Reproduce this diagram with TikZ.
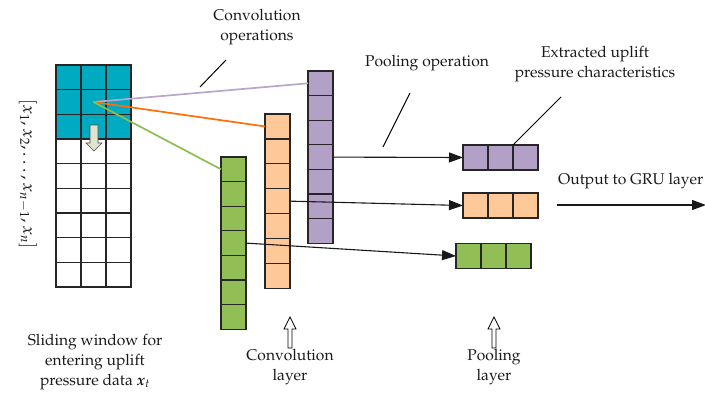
\documentclass[tikz,border=0pt]{standalone}
\usepackage[T1]{fontenc}
\usepackage{mathpazo}
\usepackage{bm}
\usetikzlibrary{arrows.meta}

\definecolor{tealc}{RGB}{0,170,192}
\definecolor{purpc}{RGB}{179,160,198}
\definecolor{peachc}{RGB}{255,200,152}
\definecolor{olivec}{RGB}{146,190,86}
\definecolor{purpline}{RGB}{185,165,205}
\definecolor{orangeline}{RGB}{255,110,10}
\definecolor{greenline}{RGB}{140,190,80}
\definecolor{arrowfill}{RGB}{222,228,208}

\tikzset{
  cell/.style={draw=black!85, line width=1.3pt, minimum width=25pt, inner sep=0pt, outer sep=0pt},
  lbl/.style={align=center, font=\fontsize{15.6}{20}\selectfont, text=black!90, inner sep=0pt},
  pointer/.style={draw=black, line width=1pt},
  flow/.style={draw=black!90, line width=1.1pt, -{Triangle[length=14pt,width=10pt]}},
  hollowarrow/.style={draw=black, line width=0.8pt, fill=white},
}

\begin{document}
\begin{tikzpicture}[x=1pt,y=-1pt]
\useasboundingbox (0,0) rectangle (705,397);

% input grid
\foreach \r in {0,1,2}
  \foreach \c in {0,1,2}
    \node[cell, minimum height=24.67pt, fill=tealc] (g-\r-\c) at ({68.5+25*\c},{77.33+24.67*\r}) {};
\foreach \r in {3,...,8}
  \foreach \c in {0,1,2}
    \node[cell, minimum height=24.67pt, fill=white] (g-\r-\c) at ({68.5+25*\c},{77.33+24.67*\r}) {};

% sliding arrow inside grid
\draw[draw=black!70, line width=0.7pt, fill=arrowfill]
  (90,125) -- (98,125) -- (98,143) -- (102,143) -- (94,151) -- (86,143) -- (90,143) -- cycle;

% convolution layer columns
\foreach \i in {1,...,7}
  \node[cell, minimum height=24.6pt, fill=purpc] (p\i) at (320.5,{83.3+24.6*(\i-1)}) {};
\foreach \i in {1,...,7}
  \node[cell, minimum height=24.9pt, fill=peachc] (o\i) at (277.5,{126.45+24.9*(\i-1)}) {};
\foreach \i in {1,...,7}
  \node[cell, minimum height=24.6pt, fill=olivec] (gr\i) at (233.5,{169.3+24.6*(\i-1)}) {};

% pooling outputs
\foreach \i in {1,2,3}
  \node[cell, minimum height=25pt, fill=purpc] (pp\i) at ({475.5+25*(\i-1)},157.5) {};
\foreach \i in {1,2,3}
  \node[cell, minimum height=25pt, fill=peachc] (op\i) at ({475.5+25*(\i-1)},205.5) {};
\foreach \i in {1,2,3}
  \node[cell, minimum height=24.5pt, fill=olivec] (gp\i) at ({468.5+25*(\i-1)},256) {};

% convolution lines
\draw[purpline, line width=1.7pt] (g-1-1.center) -- (p1.west);
\draw[orangeline, line width=1.7pt] (g-1-1.center) -- (o1.west);
\draw[greenline, line width=1.7pt] (g-1-1.center) -- (gr1.west);

% pooling arrows
\draw[flow] (p4.east) -- (pp1.west);
\draw[flow] (o4.east) -- (op1.west);
\draw[flow] (gr4.east) -- (gp1.west);

% output arrow
\coordinate (outS) at (557,205);
\coordinate (outE) at (706,205);
\draw[flow] (outS) -- (outE);
\node[lbl, anchor=west] (outlbl) at (558,181) {Output to GRU layer};

% labels with pointers
\node[lbl] (convop) at (257,27) {Convolution\\operations};
\coordinate (cA) at (226,60);
\coordinate (cB) at (200,87);
\draw[pointer] (cA) -- (cB);

\node[lbl] (poolop) at (427,63) {Pooling operation};
\coordinate (pA) at (410,93);
\coordinate (pB) at (383,147);
\draw[pointer] (pA) -- (pB);

\node[lbl] (extr) at (595,64) {Extracted uplift\\pressure characteristics};
\coordinate (eA) at (561,97);
\draw[pointer] (eA) -- (pp2.north east);

% sequence label
\node[rotate=-90, font=\fontsize{17.5}{21}\selectfont, text=black!90, inner sep=0pt] (seq) at (28,174)
  {$[x_1,x_2,\ldots,x_{n-1},x_n]$};

% bottom labels
\node[lbl] (slide) at (95,362) {Sliding window for\\entering uplift\\pressure data $\bm{x}_t$};
\node[lbl] (convl) at (290,367) {Convolution\\layer};
\node[lbl] (pooll) at (494,367) {Pooling\\layer};

% hollow up arrows
\draw[hollowarrow] (288,348) -- (288,329) -- (284,329) -- (290,317) -- (296,329) -- (292,329) -- (292,348) -- cycle;
\draw[hollowarrow] (492,348) -- (492,329) -- (488,329) -- (494,317) -- (500,329) -- (496,329) -- (496,348) -- cycle;
\end{tikzpicture}
\end{document}
